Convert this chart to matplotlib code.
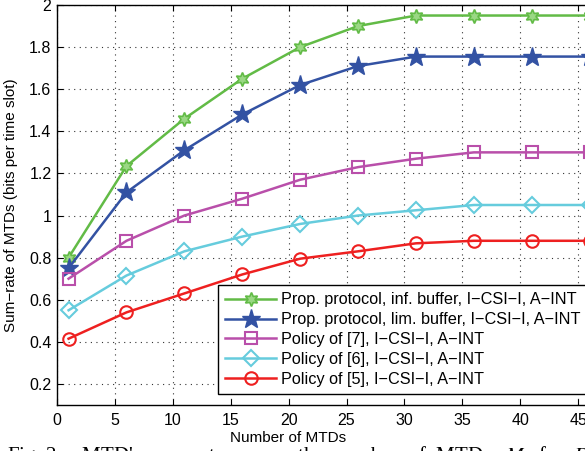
import matplotlib
matplotlib.use("Agg")
import matplotlib.pyplot as plt

num_mtds = [1, 6, 11, 16, 21, 26, 31, 36, 41, 46]
prop_inf = [0.80, 1.235, 1.46, 1.65, 1.80, 1.90, 1.95, 1.95, 1.95, 1.95]
prop_lim = [0.75, 1.11, 1.31, 1.48, 1.62, 1.71, 1.755, 1.755, 1.755, 1.755]
policy7 = [0.70, 0.88, 1.00, 1.08, 1.17, 1.23, 1.27, 1.30, 1.30, 1.30]
policy6 = [0.55, 0.715, 0.83, 0.90, 0.96, 1.00, 1.025, 1.05, 1.05, 1.05]
policy5 = [0.415, 0.54, 0.63, 0.72, 0.795, 0.83, 0.868, 0.88, 0.88, 0.88]

labels = ["Prop. protocol, inf. buffer, I\u2212CSI\u2212I, A\u2212INT",
          "Prop. protocol, lim. buffer, I\u2212CSI\u2212I, A\u2212INT",
          "Policy of [7], I\u2212CSI\u2212I, A\u2212INT",
          "Policy of [6], I\u2212CSI\u2212I, A\u2212INT",
          "Policy of [5], I\u2212CSI\u2212I, A\u2212INT"]
xticks = [0, 5, 10, 15, 20, 25, 30, 35, 40, 45, 50]
yticks = [0.2, 0.4, 0.6, 0.8, 1, 1.2, 1.4, 1.6, 1.8, 2]
ytick_labels = ["0.2", "0.4", "0.6", "0.8", "1", "1.2", "1.4", "1.6", "1.8", "2"]

plt.rcParams['font.family'] = ['Liberation Sans', 'DejaVu Sans']

fig = plt.figure(figsize=(5.85, 4.51), dpi=100)
ax = fig.add_axes([57/585, 46/451, 579/585, 400/451])

green = '#62BB46'
blue = '#3352A3'
magenta = '#B94FAA'
cyan = '#66CCDD'
red = '#EE2020'

lw = 1.8
ax.plot(num_mtds, prop_inf, color=green, lw=lw, marker=(6, 1, 0), ms=10,
        mfc='#9AD884', mec=green, mew=1.2, label=labels[0])
ax.plot(num_mtds, prop_lim, color=blue, lw=lw, marker='*', ms=14,
        mfc=blue, mec=blue, label=labels[1])
ax.plot(num_mtds, policy7, color=magenta, lw=lw, marker='s', ms=8,
        mfc='none', mec=magenta, mew=1.5, label=labels[2])
ax.plot(num_mtds, policy6, color=cyan, lw=lw, marker='D', ms=8,
        mfc='none', mec=cyan, mew=1.5, label=labels[3])
ax.plot(num_mtds, policy5, color=red, lw=lw, marker='o', ms=9,
        mfc='none', mec=red, mew=1.5, label=labels[4])

ax.set_xlim(0, 50)
ax.set_ylim(0.1, 2)
ax.set_xticks(xticks)
ax.set_yticks(yticks)
ax.set_yticklabels(ytick_labels)
ax.tick_params(direction='in', top=True, right=True, labelsize=11.5, length=4)
ax.tick_params(axis='x', pad=6)
ax.tick_params(axis='y', pad=4)
ax.grid(True, linestyle=(0, (1, 4)), color='#333333', linewidth=0.8)
for s in ax.spines.values():
    s.set_linewidth(1.0)

ax.set_xlabel("Number of MTDs", fontsize=11)
ax.xaxis.set_label_coords((288 - 57) / 579, -0.066)
ax.set_ylabel("Sum\u2212rate of MTDs (bits per time slot)", fontsize=11)
ax.yaxis.set_label_coords(-0.067, 0.5)

leg = ax.legend(loc='upper left', bbox_to_anchor=(218/585, 1 - 285/451),
                bbox_transform=fig.transFigure, fontsize=11.7, frameon=True,
                fancybox=False, edgecolor='black', framealpha=1,
                borderaxespad=0, handlelength=3.1, handletextpad=0.3,
                labelspacing=0.3, borderpad=0.45)
leg.get_frame().set_linewidth(1.0)

fig.text(7/585, 1 - 444/451, "Fig. 2.    MTD's  sum-rate  versus  the  number  of  MTDs,  $M$,  for  $D$",
         fontsize=15, family=['Liberation Serif', 'DejaVu Serif'], va='top', ha='left',
         math_fontfamily='stix')

fig.savefig("out.png", dpi=100)
